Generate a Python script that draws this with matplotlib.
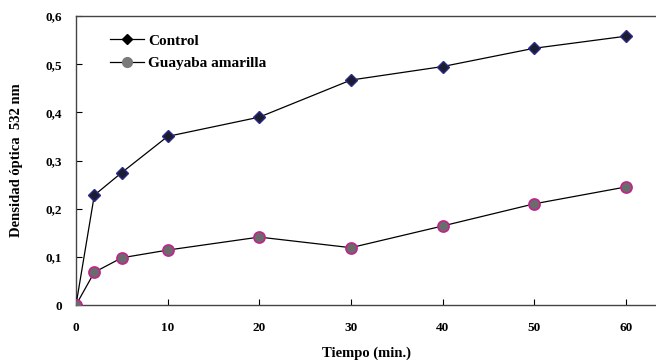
import matplotlib
matplotlib.use('Agg')
import matplotlib.pyplot as plt

tiempo = [0, 2, 5, 10, 20, 30, 40, 50, 60]
control = [0.0, 0.228, 0.275, 0.35, 0.39, 0.467, 0.495, 0.533, 0.558]
guayaba = [0.0, 0.068, 0.098, 0.114, 0.141, 0.119, 0.164, 0.21, 0.245]
xticks = [0, 10, 20, 30, 40, 50, 60]
yticks = [0, 0.1, 0.2, 0.3, 0.4, 0.5, 0.6]
ylabels = ['0', '0,1', '0,2', '0,3', '0,4', '0,5', '0,6']

plt.rcParams['font.family'] = ['Liberation Serif', 'DejaVu Serif']
plt.rcParams['font.weight'] = 'bold'

fig = plt.figure(figsize=(6.56, 3.64), dpi=100)
ax = fig.add_axes([76/656, 59/364, 580/656, 289/364])

ax.plot(tiempo, control, color='black', lw=0.9, marker='D', ms=6,
        mfc='#1c1c30', mec='#2a2a8a', mew=1.0, label='Control', zorder=3)
ax.plot(tiempo, guayaba, color='black', lw=0.9, marker='o', ms=8,
        mfc='#6b6b6b', mec='#c0248e', mew=1.2, label='Guayaba amarilla', zorder=3)

ax.set_xlim(0, 63.3)
ax.set_ylim(0, 0.6)
ax.set_xticks(xticks)
ax.set_yticks(yticks)
ax.set_yticklabels(ylabels)
ax.tick_params(direction='in', length=4, width=0.8, labelsize=9.5)
ax.tick_params(axis='x', pad=12)
ax.tick_params(axis='y', pad=10)
for s in ['left', 'top', 'bottom']:
    ax.spines[s].set_color('#444444')
    ax.spines[s].set_linewidth(1.0)
ax.spines['right'].set_visible(False)
for lab in ax.get_xticklabels() + ax.get_yticklabels():
    lab.set_fontweight('bold')

ax.set_xlabel('Tiempo (min.)', fontsize=10.5, fontweight='bold', labelpad=9)
ax.set_ylabel('Densidad óptica  532 nm', fontsize=10.5, fontweight='bold', labelpad=16)

leg = ax.legend(loc='upper left', bbox_to_anchor=(0.035, 0.985), frameon=False,
                fontsize=11, handlelength=2.2, labelspacing=0.55, handletextpad=0.3,
                markerscale=0.85)
leg.get_lines()[0].set_markerfacecolor('black')
leg.get_lines()[0].set_markeredgecolor('black')
leg.get_lines()[1].set_markerfacecolor('#7a7a7a')
leg.get_lines()[1].set_markeredgecolor('#7a7a7a')
for t in leg.get_texts():
    t.set_fontweight('bold')

fig.savefig('out.png', dpi=100)
